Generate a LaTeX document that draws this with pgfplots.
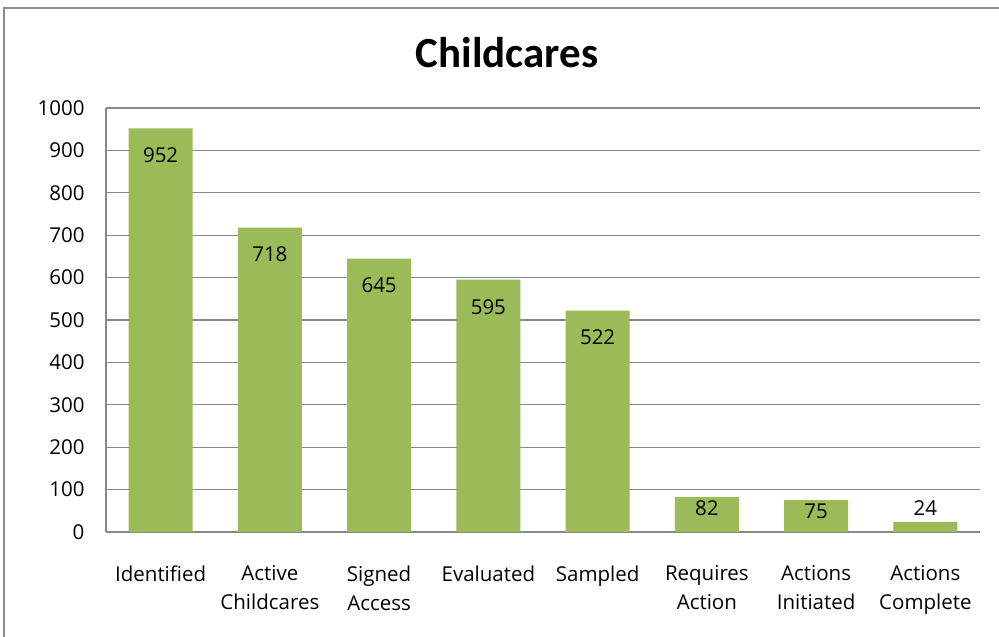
\documentclass[border=0pt]{standalone}
\usepackage{pgfplots}
\pgfplotsset{compat=1.18}
\usepackage{fontspec}
\setmainfont{Open Sans}
\newfontfamily\titlefont{Carlito}
\definecolor{bargreen}{HTML}{9BBB59}
\definecolor{gridgray}{HTML}{888888}
\definecolor{framegray}{HTML}{8C8C8C}
\begin{document}
\begin{tikzpicture}
\begin{axis}[
  scale only axis, width=874pt, height=424pt,
  xmin=-0.5, xmax=7.5, ymin=0, ymax=1000,
  ytick={0,100,...,1000},
  xtick={0,...,7},
  xticklabels={Identified, Active\\Childcares, Signed\\Access, Evaluated, Sampled, Requires\\Action, Actions\\Initiated, Actions\\Complete},
  axis x line*=bottom, axis y line*=left,
  axis line style={-, gridgray, line width=1.2pt},
  ymajorgrids, grid style={gridgray, line width=1.2pt},
  major tick length=0pt,
  tick label style={font=\fontsize{20.5}{29}\selectfont},
  xticklabel style={align=center, yshift=-30pt},
  yticklabel style={xshift=-18pt},
  /pgf/number format/assume math mode=true,
  /pgf/number format/1000 sep={},
  clip=false,
]
% bars
\addplot[ybar, bar shift=0pt, bar width=64pt, fill=bargreen, draw=none]
  coordinates {(0,952) (1,718) (2,645) (3,595) (4,522) (5,82) (6,75) (7,24)};
% value labels: inside the tall bars
\addplot[draw=none, mark=none, nodes near coords, point meta=y,
  nodes near coords style={anchor=center, yshift=-27pt, font=\fontsize{20.5}{24}\selectfont}]
  coordinates {(0,952) (1,718) (2,645) (3,595) (4,522)};
% inside the short bars
\addplot[draw=none, mark=none, nodes near coords, point meta=y,
  nodes near coords style={anchor=center, yshift=-11pt, font=\fontsize{20.5}{24}\selectfont}]
  coordinates {(5,82) (6,75)};
% above the shortest bar
\addplot[draw=none, mark=none, nodes near coords, point meta=y,
  nodes near coords style={anchor=center, yshift=14pt, font=\fontsize{20.5}{24}\selectfont}]
  coordinates {(7,24)};
\end{axis}
\coordinate (sw) at (current axis.south west);
\coordinate (nw) at (current axis.north west);
\coordinate (ne) at (current axis.north east);
\node[font=\titlefont\bfseries\fontsize{43}{50}\selectfont] at ([shift={(401pt,55pt)}]nw) {Childcares};
% chart frame
\draw[framegray, line width=2.5pt] ([shift={(-102pt,-110pt)}]sw) -- ([shift={(-102pt,100pt)}]nw) -- ([shift={(25pt,100pt)}]ne);
\pgfresetboundingbox
\path[use as bounding box] ([shift={(-106pt,-105pt)}]sw) rectangle ([shift={(19pt,108pt)}]ne);
\end{tikzpicture}
\end{document}
